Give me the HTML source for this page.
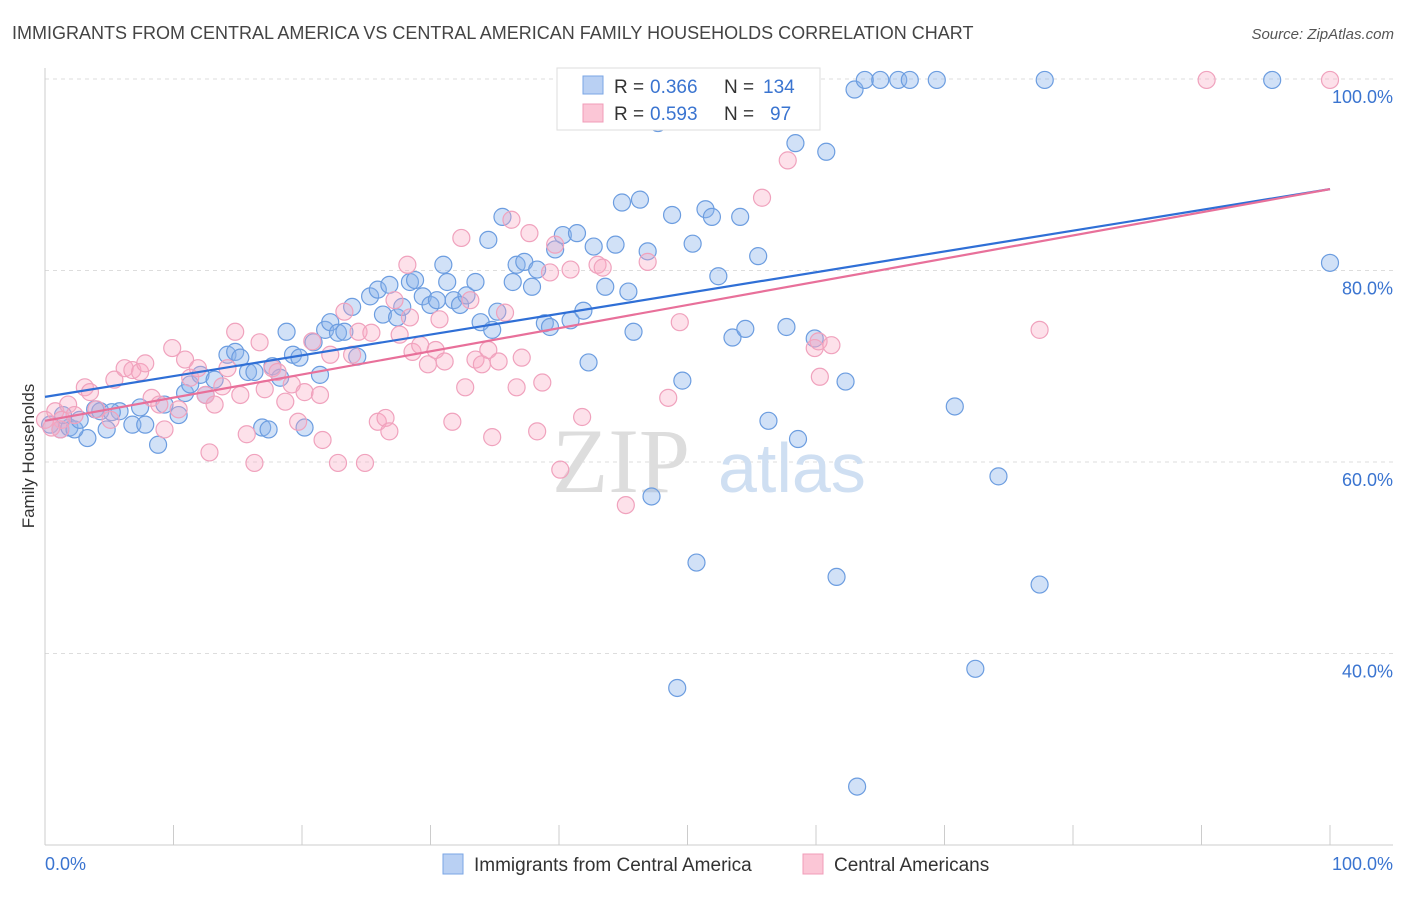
<!DOCTYPE html>
<html><head><meta charset="utf-8"><style>
body{margin:0;background:#fff;font-family:"Liberation Sans",sans-serif;}
</style></head><body>
<svg width="1406" height="892" xmlns="http://www.w3.org/2000/svg" style="font-family:'Liberation Sans',sans-serif">
<text x="12" y="39" font-size="18" fill="#444">IMMIGRANTS FROM CENTRAL AMERICA VS CENTRAL AMERICAN FAMILY HOUSEHOLDS CORRELATION CHART</text>
<text x="1394" y="39" font-size="15" fill="#555" text-anchor="end" font-style="italic">Source: ZipAtlas.com</text>
<text transform="translate(34,456) rotate(-90)" font-size="17" fill="#333" text-anchor="middle">Family Households</text>
<g id="grid"></g>
<text x="552" y="492" font-size="92" fill="#ddd" font-family="Liberation Serif">ZIP</text>
<text x="718" y="492" font-size="70" fill="#cfdff2">atlas</text>
<g id="pts"></g>
<g id="lines"></g>
<g>
<rect x="557" y="68" width="263" height="62" fill="#fff" stroke="#ddd"/>
<rect x="583" y="76" width="20" height="18" fill="#b9d0f3" stroke="#7aa6e4"/>
<rect x="583" y="104" width="20" height="18" fill="#fbc6d6" stroke="#f09cb8"/>
<text x="614" y="93" font-size="19" fill="#333">R =</text>
<text x="650" y="93" font-size="19" fill="#3a74d0">0.366</text>
<text x="724" y="93" font-size="19" fill="#333">N =</text>
<text x="763" y="93" font-size="19" fill="#3a74d0">134</text>
<text x="614" y="120" font-size="19" fill="#333">R =</text>
<text x="650" y="120" font-size="19" fill="#3a74d0">0.593</text>
<text x="724" y="120" font-size="19" fill="#333">N =</text>
<text x="770" y="120" font-size="19" fill="#3a74d0">97</text>
</g>
<g>
<rect x="443" y="854" width="20" height="20" fill="#b9d0f3" stroke="#7aa6e4"/>
<text x="474" y="871" font-size="19" fill="#333">Immigrants from Central America</text>
<rect x="803" y="854" width="20" height="20" fill="#fbc6d6" stroke="#f09cb8"/>
<text x="834" y="871" font-size="19" fill="#333">Central Americans</text>
</g>
<text x="45" y="870" font-size="18" fill="#3a74d0">0.0%</text>
<text x="1393" y="870" font-size="18" fill="#3a74d0" text-anchor="end">100.0%</text>
</svg>
<script>
const blueX=[0.4,1.2,1.9,3.3,3.9,4.8,5.8,6.8,7.4,7.8,8.8,9.3,10.4,10.9,11.3,12.1,12.5,13.2,14.2,14.8,15.2,15.8,16.3,16.9,17.4,17.7,18.3,18.8,19.3,19.8,20.2,20.9,21.4,21.8,22.2,22.8,23.3,23.9,24.3,25.3,25.9,26.3,26.8,27.4,27.8,28.4,28.8,29.4,30.0,30.5,31.0,31.3,31.8,32.3,32.8,33.5,33.9,34.5,34.8,35.2,35.6,36.4,36.7,37.3,37.9,38.3,38.9,39.3,39.7,40.3,40.9,41.4,41.9,42.3,42.7,43.6,44.4,44.9,45.4,45.8,46.3,46.9,47.2,47.7,48.8,49.2,49.6,50.4,50.7,51.4,51.9,52.4,53.5,54.1,54.5,55.5,56.3,57.7,58.4,58.6,59.9,60.8,61.6,62.3,63.0,63.8,65.0,66.4,67.3,69.4,70.8,72.4,74.2,77.4,77.8,95.5,100,63.2,54.5,55.6,56.8,1.4,2.3,2.7,4.3,5.2];
const blueY=[63.9,63.4,63.6,62.5,65.5,63.4,65.3,63.9,65.7,63.9,61.8,66.0,64.9,67.2,68.1,69.1,67.0,68.6,71.2,71.5,70.9,69.4,69.4,63.6,63.4,70.0,68.8,73.6,71.2,70.9,63.6,72.5,69.1,73.8,74.6,73.5,73.6,76.2,71.0,77.3,78.0,75.4,78.5,75.1,76.2,78.8,79.0,77.3,76.4,76.9,80.6,78.8,76.9,76.4,77.4,78.8,74.6,83.2,73.8,75.7,85.6,78.8,80.6,80.9,78.3,80.1,74.5,74.1,82.2,83.7,74.8,83.9,75.8,70.4,82.5,78.3,82.7,87.1,77.8,73.6,87.4,82.0,56.4,95.4,85.8,36.4,68.5,82.8,49.5,86.4,85.6,79.4,73.0,85.6,73.9,81.5,64.3,74.1,93.3,62.4,72.9,92.4,48.0,68.4,98.9,99.9,99.9,99.9,99.9,99.9,65.8,38.4,58.5,47.2,99.9,99.9,80.8,26.1,99.9,99.9,99.9,64.9,63.4,64.4,65.3,65.2];
const pinkX=[0,0.8,1.3,1.8,2.3,3.1,3.5,4.0,5.1,5.4,6.2,6.8,7.4,7.8,8.3,8.9,9.3,9.9,10.4,10.9,11.3,11.9,12.5,12.8,13.2,13.8,14.2,14.8,15.2,15.7,16.3,16.7,17.1,17.7,18.1,18.7,19.2,19.7,20.2,20.8,21.4,21.6,22.2,22.8,23.3,23.9,24.4,24.9,25.4,25.9,26.5,26.8,27.2,27.6,28.2,28.4,28.6,29.2,29.8,30.4,30.7,31.1,31.7,32.4,32.7,33.1,33.5,34.0,34.5,34.8,35.3,35.8,36.3,36.7,37.1,37.7,38.3,38.7,39.3,39.7,40.1,40.9,41.8,43.0,43.4,45.2,46.9,48.5,49.4,55.8,57.8,59.9,60.2,60.3,61.2,77.4,90.4,100,1.2,0.5];
const pinkY=[64.4,65.3,64.4,66.0,64.9,67.8,67.3,65.5,64.4,68.6,69.8,69.6,69.4,70.3,66.7,66.0,63.4,71.9,65.5,70.7,68.8,69.8,67.0,61.0,66.0,67.9,69.8,73.6,67.0,62.9,59.9,72.5,67.6,69.8,69.4,66.3,68.1,64.2,67.3,72.6,67.0,62.3,71.2,59.9,75.7,71.2,73.6,59.9,73.5,64.2,64.6,63.2,76.9,73.3,80.6,75.1,71.5,72.2,70.2,71.7,74.9,70.5,64.2,83.4,67.8,76.9,70.7,70.2,71.7,62.6,70.5,75.6,85.3,67.8,70.9,83.9,63.2,68.3,79.8,82.7,59.2,80.1,64.7,80.6,80.3,55.5,80.9,66.7,74.6,87.6,91.5,71.9,72.6,68.9,72.2,73.8,99.9,99.9,63.4,63.6];
const trendBlue=[66.8,88.5];
const trendPink=[64.3,88.5];
const yTicks=[100,80,60,40];
const NS='http://www.w3.org/2000/svg';
const sx=v=>45+v*12.85, sy=v=>79+(100-v)*9.575;
function mk(t,a,p){const e=document.createElementNS(NS,t);for(const k in a)e.setAttribute(k,a[k]);p.appendChild(e);return e;}
const g=document.getElementById('grid');
yTicks.forEach(t=>{const l=mk('line',{x1:45,x2:1393,y1:sy(t),y2:sy(t),stroke:'#ddd','stroke-dasharray':'4,4'},g);


const tx=mk('text',{x:1393,y:sy(t)+24,'font-size':18,fill:'#3a74d0','text-anchor':'end'},g);tx.textContent=t.toFixed(1)+'%';

});
const ax=mk('line',{x1:45,x2:45,y1:68,y2:845,stroke:'#ccc'},g);


const bx=mk('line',{x1:45,x2:1393,y1:845,y2:845,stroke:'#ccc'},g);


for(let i=0;i<=10;i++){const tk=mk('line',{x1:sx(i*10),x2:sx(i*10),y1:825,y2:845,stroke:'#ccc'},g);

}
const pg=document.getElementById('pts');
blueX.forEach((x,i)=>{const c=mk('circle',{cx:sx(x),cy:sy(blueY[i]),r:8.5,fill:'rgba(140,180,235,0.4)',stroke:'#6c9de0','stroke-width':1.2},pg);

});
pinkX.forEach((x,i)=>{const c=mk('circle',{cx:sx(x),cy:sy(pinkY[i]),r:8.5,fill:'rgba(248,170,196,0.35)',stroke:'#f0a2bd','stroke-width':1.2},pg);

});
const lg=document.getElementById('lines');
const lb=mk('line',{x1:sx(0),y1:sy(trendBlue[0]),x2:sx(100),y2:sy(trendBlue[1]),stroke:'#2f6fd6','stroke-width':2.2},lg);


const lp=mk('line',{x1:sx(0),y1:sy(trendPink[0]),x2:sx(100),y2:sy(trendPink[1]),stroke:'#e8709a','stroke-width':2.2},lg);


</script>
</body></html>
